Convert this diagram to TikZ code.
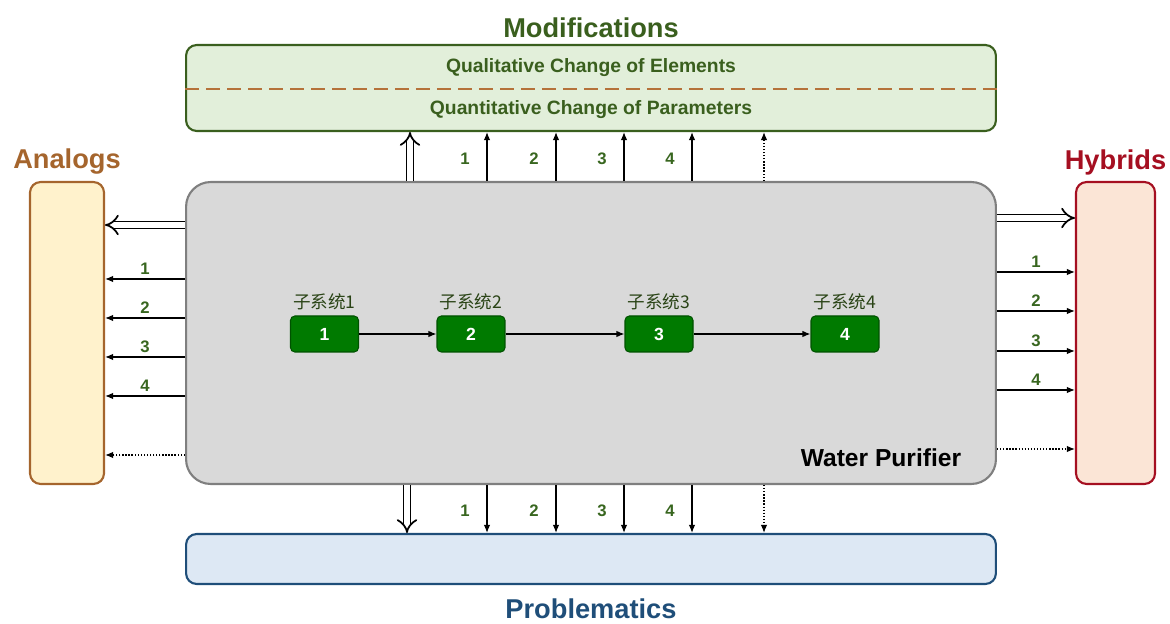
\documentclass[tikz,border=0pt]{standalone}
\usepackage{fontspec}
\setmainfont{Liberation Sans}
\newfontfamily\cjk{Noto Sans CJK SC}
\usepackage{tikz}
\usetikzlibrary{arrows.meta,positioning,calc}
\definecolor{modgreen}{HTML}{3A5F1E}
\definecolor{modfill}{HTML}{E2EFDA}
\definecolor{numgreen}{HTML}{38661F}
\definecolor{anaedge}{HTML}{A5652D}
\definecolor{anafill}{HTML}{FFF2CC}
\definecolor{hybedge}{HTML}{A50F21}
\definecolor{hybfill}{HTML}{FBE5D6}
\definecolor{probedge}{HTML}{1F4E79}
\definecolor{probfill}{HTML}{DDE8F4}
\definecolor{mainfill}{HTML}{D9D9D9}
\definecolor{mainedge}{HTML}{7F7F7F}
\definecolor{subfill}{HTML}{007A00}
\definecolor{subedge}{HTML}{005200}
\definecolor{dashbrown}{HTML}{B5723A}

\begin{document}
\begin{tikzpicture}[x=0.02cm, y=-0.02cm,
  panel/.style={draw, line width=1.2pt, rounded corners=6pt},
  title/.style={font=\bfseries\fontsize{15.5}{18}\selectfont},
  inner/.style={font=\bfseries\fontsize{11}{13}\selectfont, text=modgreen},
  num/.style={font=\bfseries\fontsize{9.5}{11}\selectfont, text=numgreen},
  sub/.style={draw=subedge, fill=subfill, rounded corners=2.5pt, minimum width=1.36cm, minimum height=0.72cm, text=white, font=\bfseries\fontsize{10}{12}\selectfont, line width=0.6pt},
  sublbl/.style={font=\cjk\fontsize{10}{12}\selectfont, text=modgreen!70!black, inner sep=1pt},
  arr/.style={-{Latex[length=1.6mm,width=1.3mm]}, line width=0.75pt},
  dotarr/.style={arr, densely dotted},
  big/.style={double, double distance=3pt, line width=1pt, -{Implies[length=2.6mm]}}]
\useasboundingbox (0,0) rectangle (1170,624);
\node[panel, draw=modgreen, fill=modfill, minimum width=16.2cm, minimum height=1.72cm] (mods) at (591,88) {};
\node[panel, draw=mainedge, fill=mainfill, rounded corners=14pt, minimum width=16.2cm, minimum height=6.04cm] (main) at (591,333) {};
\node[panel, draw=probedge, fill=probfill, minimum width=16.2cm, minimum height=1.0cm] (probs) at (591,559) {};
\node[panel, draw=anaedge, fill=anafill, minimum width=1.48cm, minimum height=6.04cm] (analogs) at (67,333) {};
\node[panel, draw=hybedge, fill=hybfill, minimum width=1.58cm, minimum height=6.04cm] (hybrids) at (1115.5,333) {};
\node[title, text=modgreen, above=0pt of mods] (modtitle) {Modifications};
\node[title, text=anaedge, above=0pt of analogs] (anatitle) {Analogs};
\node[title, text=hybedge, above=0pt of hybrids] (hybtitle) {Hybrids};
\node[title, text=probedge, below=4pt of probs] (probtitle) {Problematics};
\draw[dashbrown, line width=1.5pt, dash pattern=on 0.28cm off 0.14cm] (mods.west |- 0,89) -- (mods.east |- 0,89);
\node[inner] (qual) at (591,68) {Qualitative Change of Elements};
\node[inner] (quan) at (591,110) {Quantitative Change of Parameters};
\node[font=\bfseries\fontsize{14}{16}\selectfont] (wp) at (881,458) {Water Purifier};
\node[sub] (s1) at (324.5,334) {1};
\node[sub] (s2) at (471,334) {2};
\node[sub] (s3) at (659,334) {3};
\node[sub] (s4) at (845,334) {4};
\foreach \i in {1,...,4}
  \node[sublbl, above=2pt of s\i] (l\i) {子系统\i};
\draw[arr] (s1) -- (s2);
\draw[arr] (s2) -- (s3);
\draw[arr] (s3) -- (s4);
\draw[big] (main.north -| 410,0) -- (mods.south -| 410,0);
\draw[big] (main.south -| 407,0) -- (probs.north -| 407,0);
\draw[big] (main.west |- 0,225) -- (analogs.east |- 0,225);
\draw[big] (main.east |- 0,218) -- (hybrids.west |- 0,218);
\foreach \x/\n in {487/1,556/2,624/3,692/4} {
  \draw[arr] (main.north -| \x,0) -- (mods.south -| \x,0);
  \node[num] at (\x-22,159) {\n};
  \draw[arr] (main.south -| \x,0) -- (probs.north -| \x,0);
  \node[num] at (\x-22,511) {\n};
}
\foreach \y/\n in {279/1,318/2,357/3,396/4}
  \draw[arr] (main.west |- 0,\y) -- node[num, above=-1pt] {\n} (analogs.east |- 0,\y);
\foreach \y/\n in {272/1,311/2,351/3,390/4}
  \draw[arr] (main.east |- 0,\y) -- node[num, above=-1pt] {\n} (hybrids.west |- 0,\y);
\draw[dotarr] (main.north -| 764,0) -- (mods.south -| 764,0);
\draw[dotarr] (main.south -| 764,0) -- (probs.north -| 764,0);
\draw[dotarr] (main.west |- 0,455) -- (analogs.east |- 0,455);
\draw[dotarr] (main.east |- 0,449) -- (hybrids.west |- 0,449);
\end{tikzpicture}
\end{document}
